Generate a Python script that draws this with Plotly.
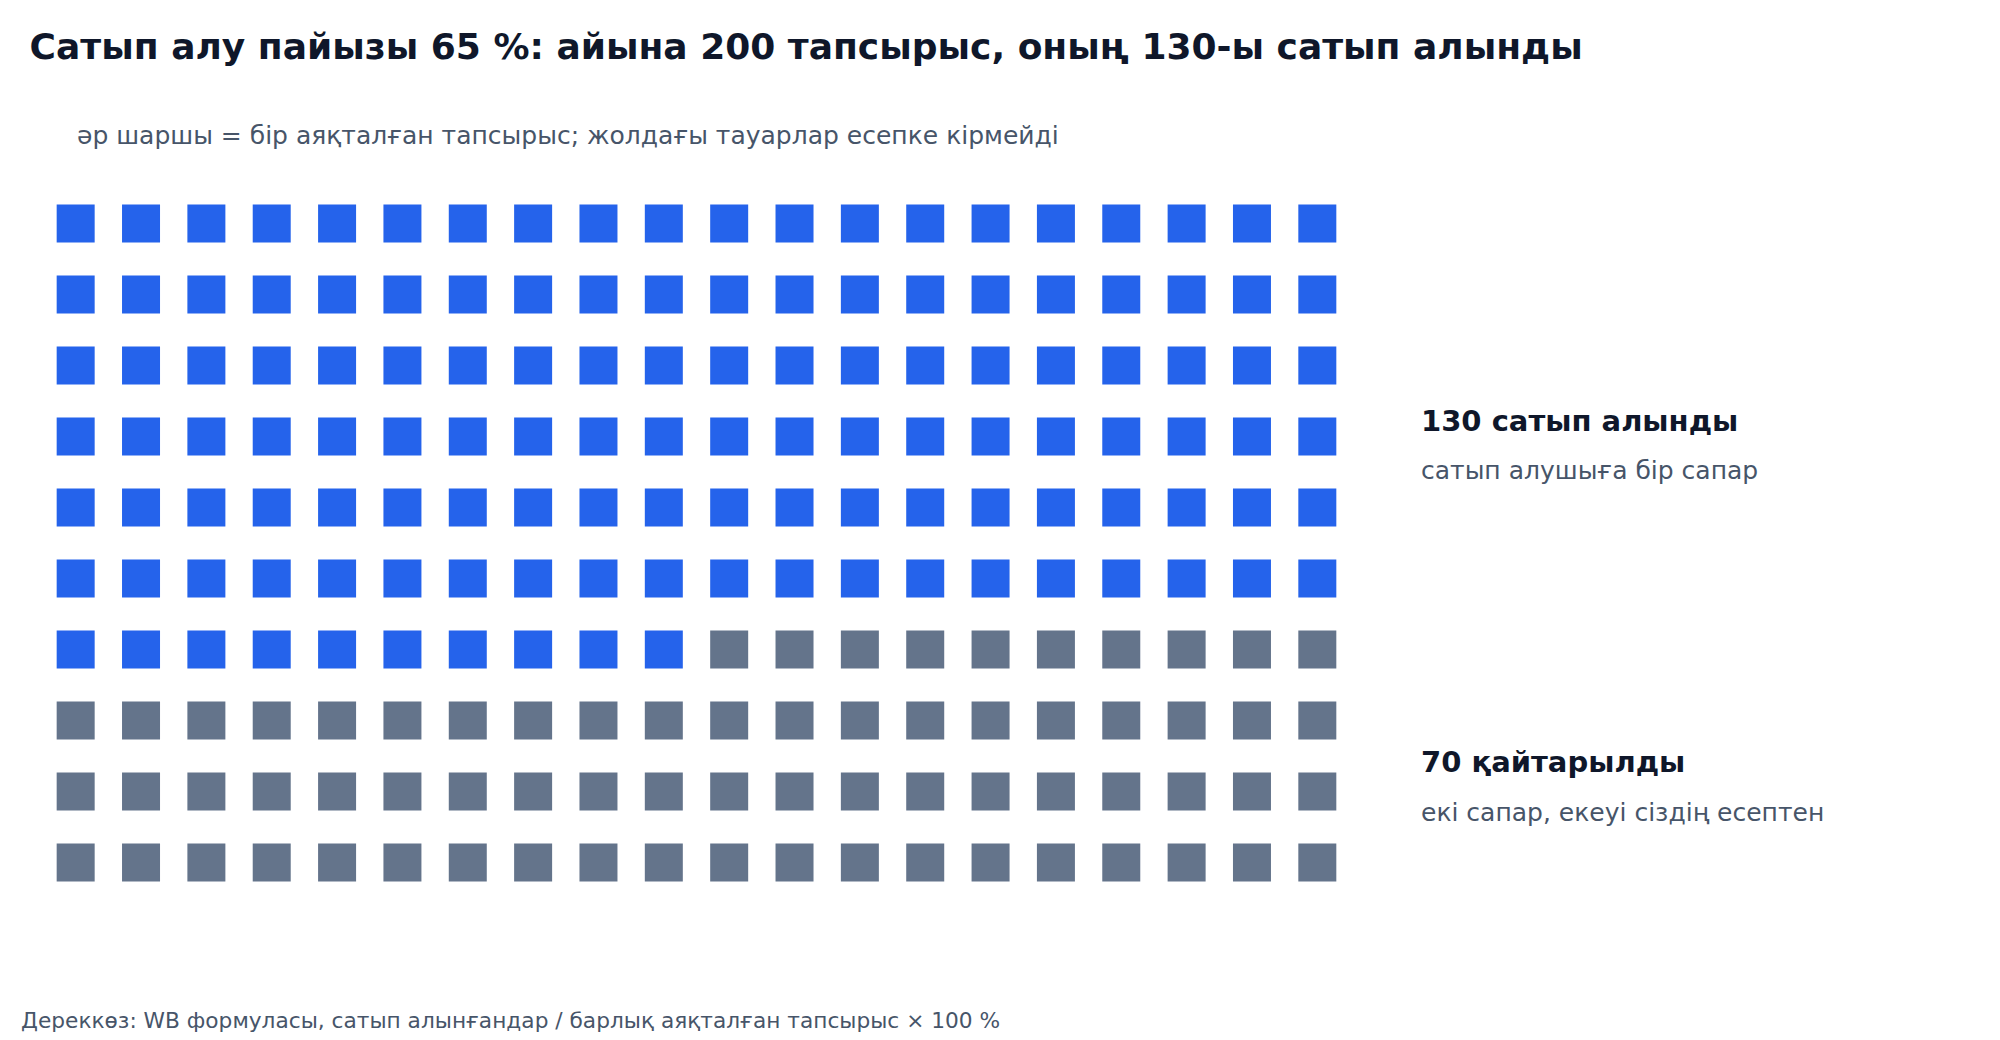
import plotly.graph_objects as go

# waffle data: one square = one finished order
purchased = 130
returned = 70
n_cols = 20
n_rows = 10

categories = ["130 сатып алынды", "70 қайтарылды"]
notes = ["сатып алушыға бір сапар", "екі сапар, екеуі сіздің есептен"]
counts = [purchased, returned]
colors = ["#2563eb", "#64748b"]

title = "Сатып алу пайызы 65 %: айына 200 тапсырыс, оның 130-ы сатып алынды"
subtitle = "әр шаршы = бір аяқталған тапсырыс; жолдағы тауарлар есепке кірмейді"
source = "Дереккөз: WB формуласы, сатып алынғандар / барлық аяқталған тапсырыс × 100 %"

fig = go.Figure()

# fill the grid row by row, left to right
start = 0
for name, cnt, col in zip(categories, counts, colors):
    idx = list(range(start, start + cnt))
    fig.add_trace(go.Scatter(
        x=[i % n_cols for i in idx],
        y=[i // n_cols for i in idx],
        mode="markers",
        marker=dict(symbol="square", size=38, color=col, line=dict(width=0)),
        name=name,
        hoverinfo="skip",
    ))
    start += cnt

# side labels
label_pos = [(0.672, 0.602), (0.191, 0.121)]
for name, note, (y1, y2) in zip(categories, notes, label_pos):
    fig.add_annotation(text="<b>" + name + "</b>", xref="paper", yref="paper",
                       x=1.0525, y=y1, xanchor="left", yanchor="middle", showarrow=False,
                       font=dict(size=29, color="#0f172a"))
    fig.add_annotation(text=note, xref="paper", yref="paper",
                       x=1.0525, y=y2, xanchor="left", yanchor="middle", showarrow=False,
                       font=dict(size=25, color="#475569"))

fig.add_annotation(text=subtitle, xref="paper", yref="paper", x=0.0244, y=1.0736,
                   xanchor="left", yanchor="middle", showarrow=False,
                   font=dict(size=25, color="#475569"))
fig.add_annotation(text=source, xref="paper", yref="paper", x=-0.0183, y=-0.1725,
                   xanchor="left", yanchor="middle", showarrow=False,
                   font=dict(size=21.7, color="#475569"))

fig.update_xaxes(range=[-0.5, n_cols - 0.5], visible=False, fixedrange=True)
fig.update_yaxes(range=[n_rows - 0.5, -0.5], visible=False, fixedrange=True)

fig.update_layout(
    width=2000, height=1040,
    title=dict(text="<b>" + title + "</b>", x=0.0108, xanchor="left", y=0.9635, yanchor="middle",
               font=dict(size=36, color="#0f172a")),
    font=dict(family="DejaVu Sans"),
    showlegend=False,
    plot_bgcolor="white", paper_bgcolor="white",
    margin=dict(l=35, r=658, t=180, b=150),
)

fig.write_html("out.html")
